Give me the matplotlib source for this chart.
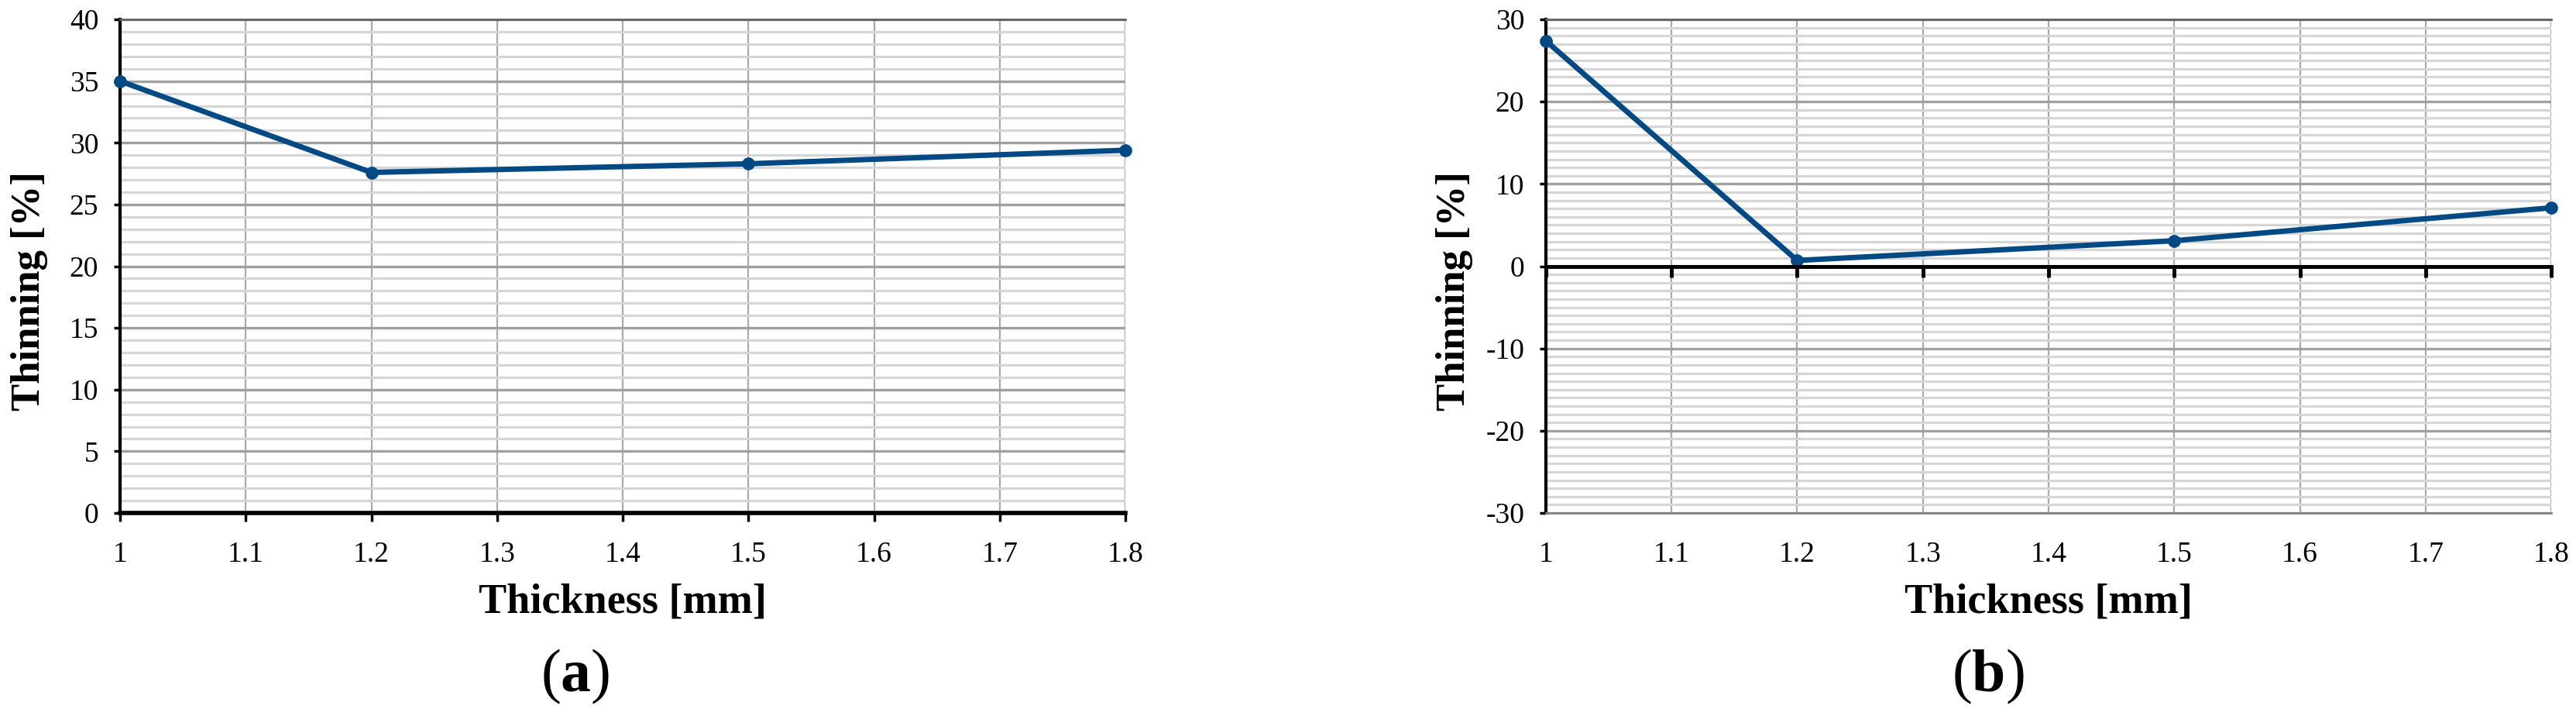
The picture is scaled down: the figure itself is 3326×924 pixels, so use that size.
import numpy as np
import matplotlib
matplotlib.use("Agg")
import matplotlib.pyplot as plt
from matplotlib.ticker import MultipleLocator

plt.rcParams['font.family'] = ['Liberation Serif', 'DejaVu Serif']
plt.rcParams['axes.unicode_minus'] = False
plt.rcParams['mathtext.fontset'] = 'custom'
plt.rcParams['mathtext.rm'] = 'Liberation Serif'
plt.rcParams['mathtext.bf'] = 'Liberation Serif:bold'

# thickness [mm] vs thinning [%]
thickness = [1.0, 1.2, 1.5, 1.8]
thinning_a = [35.0, 27.6, 28.3, 29.4]
thinning_b = [27.4, 0.7, 3.1, 7.1]

xticks = [1, 1.1, 1.2, 1.3, 1.4, 1.5, 1.6, 1.7, 1.8]
xtick_labels = ['1', '1.1', '1.2', '1.3', '1.4', '1.5', '1.6', '1.7', '1.8']
ylim_a = (0, 40)
ylim_b = (-30, 30)
panel_labels = ['a', 'b']

line_color = '#034a85'

fig = plt.figure(figsize=(33.26, 9.24), dpi=100)
ax_a = fig.add_axes([0.0466, 0.2835, 0.3903, 0.6894])
ax_b = fig.add_axes([0.6001, 0.2835, 0.3903, 0.6894])


def style_axis(ax, ylim, ystep):
    ax.set_xlim(1, 1.8)
    ax.set_ylim(*ylim)
    ax.set_xticks(xticks)
    ax.set_xticklabels(xtick_labels)
    ax.yaxis.set_major_locator(MultipleLocator(ystep))
    ax.yaxis.set_minor_locator(MultipleLocator(1))
    ax.grid(True, axis='x', which='major', color='#a9a9a9', lw=1.6, zorder=0)
    ax.grid(True, axis='y', which='minor', color='#d6d6d6', lw=2.3, zorder=0)
    ax.grid(True, axis='y', which='major', color='#a0a0a0', lw=2.4, zorder=0)
    ax.tick_params(axis='y', which='minor', length=0)
    ax.tick_params(axis='y', which='major', direction='out', length=6, width=2.5,
                   labelsize=27, pad=14)
    ax.tick_params(axis='x', labelsize=27)
    ax.spines['left'].set_color('black')
    ax.spines['left'].set_linewidth(3)
    ax.spines['right'].set_visible(False)
    ax.spines['top'].set_color('#606060')
    ax.spines['top'].set_linewidth(2)
    ax.set_axisbelow(True)
    ax.set_xlabel('Thickness [mm]', fontsize=39, fontweight='bold', labelpad=14)
    ax.set_ylabel('Thinning [%]', fontsize=38, fontweight='bold')
    ax.yaxis.set_label_coords(-0.072, 0.45)


style_axis(ax_a, ylim_a, 5)
ax_a.spines['bottom'].set_color('black')
ax_a.spines['bottom'].set_linewidth(4)
ax_a.tick_params(axis='x', direction='out', length=8, width=2.5, pad=18)
ax_a.plot(thickness, thinning_a, color=line_color, lw=5, marker='o', ms=11,
          clip_on=False, zorder=5)

style_axis(ax_b, ylim_b, 10)
ax_b.spines['bottom'].set_color('#808080')
ax_b.spines['bottom'].set_linewidth(2)
ax_b.tick_params(axis='x', length=0, pad=26)
# zero line with the tick marks hanging below it
ax_b.axhline(0, color='black', lw=3.5, zorder=3)
zero_ax = ax_b.secondary_xaxis((0 - ylim_b[0]) / (ylim_b[1] - ylim_b[0]))
zero_ax.set_alignment('bottom')
zero_ax.set_zorder(10)
zero_ax.set_xticks(xticks)
zero_ax.set_xticklabels([])
zero_ax.tick_params(axis='x', direction='out', length=10, width=3.5, color='black',
                    bottom=True, top=False, labelbottom=False, labeltop=False)
zero_ax.spines['bottom'].set_linewidth(3.5)
zero_ax.spines['bottom'].set_color('black')
ax_b.plot(thickness, thinning_b, color=line_color, lw=5, marker='o', ms=11,
          clip_on=False, zorder=5)

fig.text(0.2232, 0.055, r'($\mathbf{%s}$)' % panel_labels[0], fontsize=56,
         ha='center', va='center')
fig.text(0.7718, 0.055, r'($\mathbf{%s}$)' % panel_labels[1], fontsize=56,
         ha='center', va='center')

fig.savefig('out.png', dpi=100)
